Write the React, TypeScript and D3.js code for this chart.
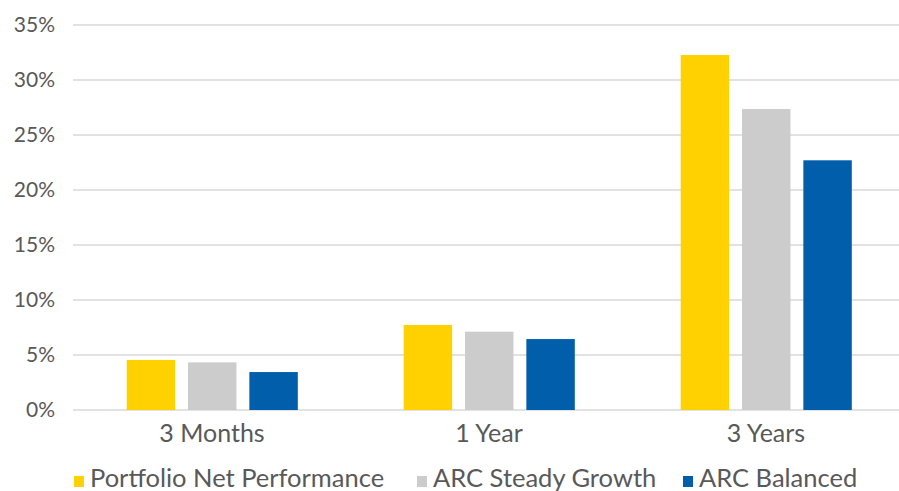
import React from "react";
import * as d3 from "d3";

const categories = ["3 Months", "1 Year", "3 Years"];
const seriesNames = ["Portfolio Net Performance", "ARC Steady Growth", "ARC Balanced"];
const portfolioNet = [4.55, 7.73, 32.27];
const arcSteadyGrowth = [4.33, 7.12, 27.36];
const arcBalanced = [3.45, 6.45, 22.7];
const yTicks = [0, 5, 10, 15, 20, 25, 30, 35];
const colors = ["#FFD100", "#CCCCCC", "#005EAA"];

const W = 899;
const H = 491;
const FONT = "Lato, 'Open Sans', sans-serif";
const TEXT = "#595959";

export default function App() {
  const series = [portfolioNet, arcSteadyGrowth, arcBalanced];
  const x = d3.scaleBand<string>().domain(categories).range([73.5, 904.5]).paddingInner(0).paddingOuter(0);
  const inner = d3.scaleBand<number>().domain([0, 1, 2]).range([53.2, 224.3]).paddingInner(0.21).paddingOuter(0);
  const y = d3.scaleLinear().domain([0, 35]).range([410, 25]);

  const legendX = [74, 417, 683];

  return (
    <svg width={W} height={H} style={{ position: "absolute", left: 0, top: 0, background: "#fff" }}>
      {yTicks.map((t) => (
        <g key={t}>
          <line x1={73} x2={899} y1={y(t)} y2={y(t)} stroke="#D9D9D9" strokeWidth={1.3} />
          <text x={55} y={y(t)} dy="0.35em" textAnchor="end" fontFamily={FONT} fontSize={21} fill={TEXT}>
            {t}%
          </text>
        </g>
      ))}
      {categories.map((c, ci) => (
        <g key={c}>
          {series.map((s, si) => (
            <rect
              key={si}
              x={(x(c) as number) + (inner(si) as number)}
              y={y(s[ci])}
              width={inner.bandwidth()}
              height={y(0) - y(s[ci])}
              fill={colors[si]}
            />
          ))}
          <text x={(x(c) as number) + x.bandwidth() / 2} y={442} textAnchor="middle" fontFamily={FONT} fontSize={25} fill={TEXT}>
            {c}
          </text>
        </g>
      ))}
      {seriesNames.map((n, i) => (
        <g key={n}>
          <rect x={legendX[i]} y={476} width={10} height={11} fill={colors[i]} />
          <text x={legendX[i] + 16} y={487} fontFamily={FONT} fontSize={25.5} fill={TEXT}>
            {n}
          </text>
        </g>
      ))}
    </svg>
  );
}
